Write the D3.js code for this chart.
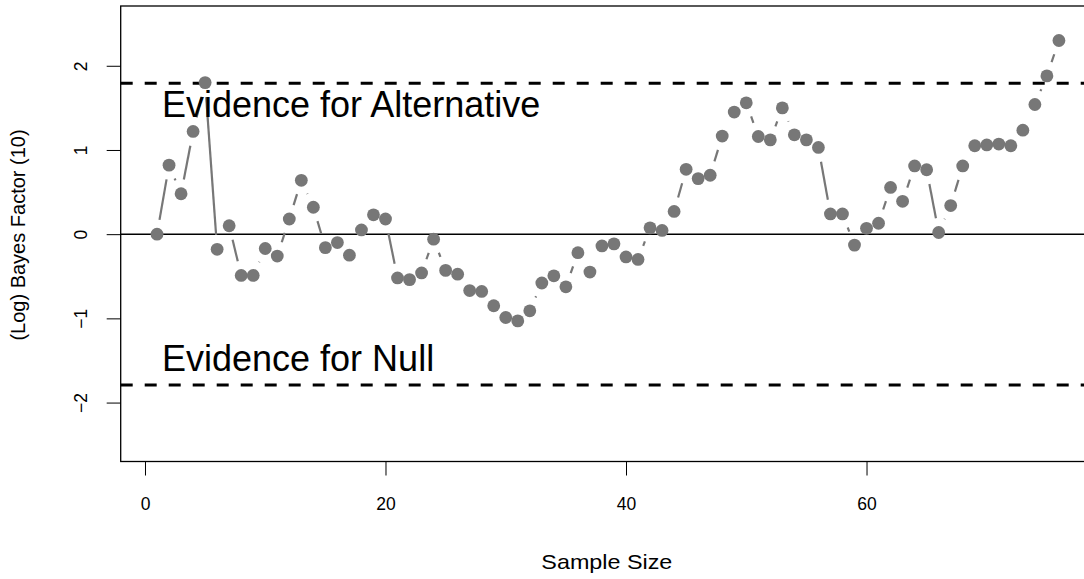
<!DOCTYPE html>
<html>
<head>
<meta charset="utf-8">
<script src="https://cdn.jsdelivr.net/npm/d3@7"></script>
<style>
  html, body { margin: 0; padding: 0; background: #fff; }
  svg { display: block; font-family: "Liberation Sans", Arial, Helvetica, sans-serif; }
</style>
</head>
<body>
<div id="chart"></div>
<script>
// sample size of each step (1..76)
const sampleSize = d3.range(1, 77);

// (log) Bayes factor, one per sample size
const logBF = [
  0.00, 0.82, 0.48, 1.22, 1.80, -0.18, 0.10, -0.49, -0.49, -0.17,
  -0.26, 0.18, 0.64, 0.32, -0.16, -0.10, -0.25, 0.05, 0.23, 0.18,
  -0.52, -0.54, -0.46, -0.06, -0.43, -0.475, -0.67, -0.68, -0.85, -0.99,
  -1.03, -0.91, -0.58, -0.495, -0.625, -0.22, -0.45, -0.14, -0.115, -0.27,
  -0.30, 0.075, 0.044, 0.27, 0.77, 0.66, 0.70, 1.165, 1.45, 1.56,
  1.16, 1.12, 1.50, 1.18, 1.12, 1.03, 0.24, 0.24, -0.13, 0.07,
  0.13, 0.555, 0.39, 0.81, 0.765, 0.02, 0.34, 0.81, 1.05, 1.06,
  1.07, 1.05, 1.235, 1.54, 1.88, 2.30
];

const xTicks = [0, 20, 40, 60];
const yTicks = [-2, -1, 0, 1, 2];
const evidenceBound = Math.log(6); // dashed thresholds at +/- log(6)
const evidenceLabels = [
  { text: "Evidence for Alternative", y: 1.39 },
  { text: "Evidence for Null", y: -1.62 }
];

const width = 1084, height = 579;
const plotLeft = 120.7, plotTop = 6, plotBottom = 461.5;

const x = d3.scaleLinear().domain([-2.02, 79]).range([plotLeft, 1095]);
const y = d3.scaleLinear().domain([-2.70, 2.71]).range([plotBottom, plotTop]);

const grey = "#777777";

const svg = d3.select("#chart").append("svg")
  .attr("width", width)
  .attr("height", height);

// horizontal reference lines
svg.append("line")
  .attr("x1", x.range()[0]).attr("x2", x.range()[1])
  .attr("y1", y(0)).attr("y2", y(0))
  .attr("stroke", "#000").attr("stroke-width", 1.5);

[evidenceBound, -evidenceBound].forEach(v => {
  svg.append("line")
    .attr("x1", x.range()[0]).attr("x2", x.range()[1])
    .attr("y1", y(v)).attr("y2", y(v))
    .attr("stroke", "#000").attr("stroke-width", 3)
    .attr("stroke-dasharray", "12,12");
});

// type = "b" style: segments between points, with a gap around each point
const gap = 14.5;
const pts = sampleSize.map((s, i) => [x(s), y(logBF[i])]);
const segs = [];
for (let i = 0; i < pts.length - 1; i++) {
  let [x0, y0] = pts[i], [x1, y1] = pts[i + 1];
  let dx = x1 - x0, dy = y1 - y0;
  let len = Math.sqrt(dx * dx + dy * dy);
  if (len <= 2 * gap) continue;
  let ux = dx / len, uy = dy / len;
  segs.push([x0 + ux * gap, y0 + uy * gap, x1 - ux * gap, y1 - uy * gap]);
}

svg.append("g")
  .selectAll("line")
  .data(segs)
  .enter().append("line")
    .attr("x1", d => d[0]).attr("y1", d => d[1])
    .attr("x2", d => d[2]).attr("y2", d => d[3])
    .attr("stroke", grey)
    .attr("stroke-width", 2.2);

svg.append("g")
  .selectAll("circle")
  .data(sampleSize)
  .enter().append("circle")
    .attr("cx", d => x(d))
    .attr("cy", (d, i) => y(logBF[i]))
    .attr("r", 6.4)
    .attr("fill", grey);

// evidence labels
svg.append("g")
  .selectAll("text")
  .data(evidenceLabels)
  .enter().append("text")
    .attr("x", 162)
    .attr("y", d => y(d.y))
    .attr("font-size", 36)
    .attr("fill", "#000")
    .text(d => d.text);

// plot frame (right edge falls outside the picture)
svg.append("rect")
  .attr("x", plotLeft)
  .attr("y", plotTop)
  .attr("width", x.range()[1] - plotLeft)
  .attr("height", plotBottom - plotTop)
  .attr("fill", "none")
  .attr("stroke", "#000")
  .attr("stroke-width", 1.3);

// x axis
const xAxis = d3.axisBottom(x).tickValues(xTicks).tickSize(14).tickPadding(22);
svg.append("g")
  .attr("transform", "translate(0," + plotBottom + ")")
  .call(xAxis)
  .call(g => g.select(".domain").remove())
  .call(g => g.selectAll("line").attr("stroke", "#000").attr("stroke-width", 1))
  .call(g => g.selectAll("text")
    .attr("font-size", 17.5)
    .attr("font-family", "Liberation Sans, Arial, sans-serif")
    .attr("fill", "#000"));

// y axis, labels parallel to the axis like base R
const yAxis = d3.axisLeft(y).tickValues(yTicks).tickSize(14)
  .tickFormat(d => d < 0 ? "\u2212" + Math.abs(d) : String(d));
svg.append("g")
  .attr("transform", "translate(" + plotLeft + ",0)")
  .call(yAxis)
  .call(g => g.select(".domain").remove())
  .call(g => g.selectAll("line").attr("stroke", "#000").attr("stroke-width", 1))
  .call(g => g.selectAll("text")
    .attr("x", null).attr("dy", null)
    .attr("transform", "translate(" + (87 - plotLeft) + ",0) rotate(-90)")
    .attr("text-anchor", "middle")
    .attr("font-size", 17.5)
    .attr("font-family", "Liberation Sans, Arial, sans-serif")
    .attr("fill", "#000"));

// axis titles
svg.append("text")
  .attr("x", (plotLeft + x.range()[1]) / 2 - 1)
  .attr("y", 569)
  .attr("text-anchor", "middle")
  .attr("font-size", 21)
  .attr("textLength", 131)
  .attr("lengthAdjust", "spacingAndGlyphs")
  .text("Sample Size");

svg.append("text")
  .attr("transform", "translate(25,235) rotate(-90)")
  .attr("text-anchor", "middle")
  .attr("font-size", 20)
  .text("(Log) Bayes Factor (10)");
</script>
</body>
</html>
